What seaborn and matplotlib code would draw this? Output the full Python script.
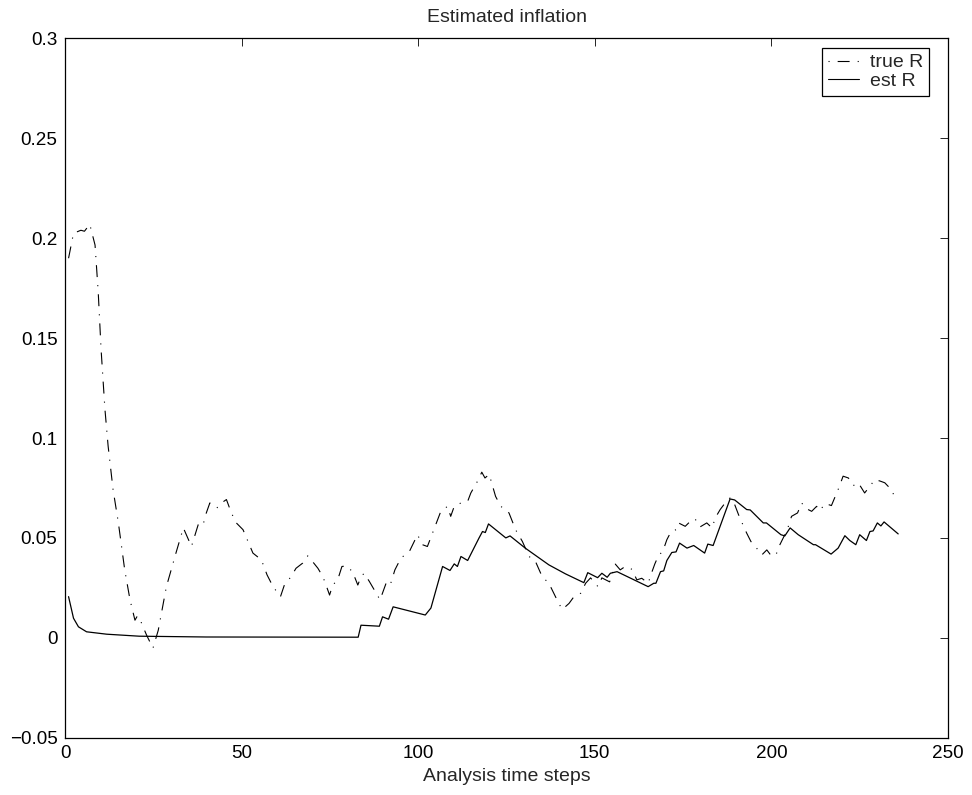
import matplotlib
matplotlib.use("Agg")
import matplotlib.pyplot as plt
import seaborn as sns
import pandas as pd

# True inflation R (dash-dot) as read at each vertex
true_steps = [1, 2.4, 4.5, 5.5, 7, 8.5, 9.4, 10.2, 11.3, 12.2, 13.6, 15.1, 16.9, 18.4, 19.8,
              20.5, 21.5, 23.1, 24.9, 26.4, 28.7, 30.6, 31.5, 33.5, 35.8, 37.7, 39, 40, 41, 43,
              44.3, 45.7, 47.1, 48.5, 50.4, 51.8, 53.2, 55.6, 57.2, 58.9, 61, 62.1, 64, 65.4,
              67.3, 68.7, 69.7, 71.6, 73, 73.9, 74.9, 75.8, 77.2, 78.4, 79.7, 81.4, 82.9, 83.8,
              84.7, 86.2, 87.6, 89.2, 90.9, 92, 93.4, 95.1, 97.5, 99.8, 101.2, 102.6, 104.4,
              106.4, 108.3, 109.2, 110.2, 112.1, 114, 114.9, 116.8, 118, 118.9, 120.1, 121.9,
              123.4, 125.7, 127.6, 129.5, 131.4, 133.2, 135.1, 137, 139.8, 140.8, 142.7, 144.1,
              146, 147.4, 148.8, 150.9, 152, 154.2, 155.8, 157.2, 158.6, 160.5, 161.9, 163.3,
              165.1, 166.2, 167, 168.1, 169.2, 170.4, 171.6, 173, 173.7, 175.6, 177.5, 178.4,
              179.8, 181.7, 183.2, 184.1, 185.5, 186.9, 188.3, 189.6, 190.7, 191.8, 193, 194.2,
              195.8, 197.3, 198.7, 200.1, 201.5, 202.4, 203.8, 204.8, 205.7, 207.4, 208.6,
              209.5, 211.4, 212.8, 213.7, 215.2, 217, 218.1, 219.1, 220.3, 221.8, 223.2, 224.6,
              226.4, 227.9, 229.3, 230.7, 232.1, 233.5, 234, 235]
true_r = [0.190, 0.2025, 0.204, 0.2035, 0.207, 0.1966, 0.173, 0.1446, 0.1144, 0.096, 0.0742,
          0.0576, 0.034, 0.019, 0.0088, 0.011, 0.008, 0.0013, -0.0052, 0.0038, 0.0256, 0.0375,
          0.043, 0.055, 0.0457, 0.0566, 0.056, 0.0625, 0.0675, 0.065, 0.0675, 0.0692, 0.0625,
          0.0575, 0.0541, 0.0482, 0.0424, 0.039, 0.0315, 0.0256, 0.0206, 0.0264, 0.0306, 0.0348,
          0.0374, 0.041, 0.039, 0.0348, 0.0306, 0.0264, 0.0214, 0.0264, 0.029, 0.0357, 0.036,
          0.0331, 0.0264, 0.0306, 0.0323, 0.0281, 0.0239, 0.019, 0.0273, 0.026, 0.034, 0.0399,
          0.0432, 0.0516, 0.0466, 0.0457, 0.054, 0.0633, 0.0658, 0.0608, 0.0658, 0.0675, 0.0683,
          0.0725, 0.0784, 0.0829, 0.080, 0.0818, 0.0708, 0.0658, 0.0625, 0.054, 0.0482, 0.0407,
          0.0382, 0.0306, 0.0273, 0.0172, 0.0142, 0.0172, 0.0206, 0.0223, 0.0273, 0.030, 0.0256,
          0.030, 0.028, 0.0369, 0.034, 0.0357, 0.0343, 0.029, 0.0298, 0.0273, 0.0331, 0.037,
          0.0415, 0.043, 0.0491, 0.0532, 0.0541, 0.0575, 0.0558, 0.0591, 0.0595, 0.0555, 0.0575,
          0.055, 0.060, 0.0642, 0.0675, 0.070, 0.0667, 0.0616, 0.0571, 0.0524, 0.0482, 0.0449,
          0.0415, 0.044, 0.0407, 0.0424, 0.0466, 0.0516, 0.0558, 0.0608, 0.0625, 0.0675, 0.065,
          0.0633, 0.0658, 0.0636, 0.0672, 0.0662, 0.0708, 0.0751, 0.0809, 0.080, 0.0762, 0.0776,
          0.0725, 0.0759, 0.0792, 0.0785, 0.0776, 0.075, 0.0742, 0.070]

# Estimated inflation R (solid)
est_steps = [1, 2.4, 3.8, 6.1, 11.8, 21, 40, 83, 83.8, 89, 89.9, 91.6, 92.9, 102, 103.6,
             106.9, 109, 110.2, 111.1, 112.1, 114, 117.2, 118.2, 119, 119.9, 124.8, 126, 130.3,
             137, 141.7, 146.9, 148, 150.8, 152, 153.5, 154.4, 156.3, 165.1, 166.7, 167.3, 168.6,
             169.5, 170.4, 171.8, 173, 174, 176.1, 178, 181.1, 182, 183.5, 188.3, 189.6, 193,
             194, 197.7, 198.6, 202.7, 203.8, 205.3, 207.6, 211.9, 212.5, 216.9, 218.9, 220.8,
             222.2, 223.9, 225, 226.9, 227.9, 228.8, 230, 231, 231.9, 235.9]
est_r = [0.0206, 0.0098, 0.0055, 0.003, 0.0018, 0.0008, 0.0004, 0.0003, 0.0063, 0.0058, 0.0105,
         0.0093, 0.0155, 0.0114, 0.0149, 0.0357, 0.0337, 0.037, 0.0357, 0.0407, 0.0387, 0.0499,
         0.0532, 0.0527, 0.057, 0.050, 0.051, 0.0449, 0.0365, 0.032, 0.0276, 0.0326, 0.0301,
         0.0323, 0.0303, 0.0323, 0.0331, 0.0256, 0.0273, 0.0273, 0.0331, 0.0335, 0.0387, 0.0427,
         0.043, 0.0474, 0.0449, 0.0462, 0.0424, 0.0469, 0.0462, 0.0695, 0.069, 0.0642, 0.064,
         0.0575, 0.0575, 0.0516, 0.051, 0.055, 0.0516, 0.0466, 0.0466, 0.0419, 0.0449, 0.0511,
         0.0487, 0.0466, 0.0516, 0.0487, 0.0532, 0.0535, 0.0575, 0.056, 0.058, 0.052]

x_ticks = [0, 50, 100, 150, 200, 250]
y_ticks = [-0.05, 0, 0.05, 0.1, 0.15, 0.2, 0.25, 0.3]
y_tick_labels = ["\u22120.05", "0", "0.05", "0.1", "0.15", "0.2", "0.25", "0.3"]

sns.set_style("white")
plt.rcParams["font.family"] = ["Liberation Sans", "DejaVu Sans"]
plt.rcParams["axes.unicode_minus"] = True
plt.rcParams["lines.scale_dashes"] = False

fig = plt.figure(figsize=(9.72, 7.95), dpi=100)
ax = fig.add_axes([0.0669, 0.0721, 0.9084, 0.8795])

true_df = pd.DataFrame({"step": true_steps, "R": true_r})
est_df = pd.DataFrame({"step": est_steps, "R": est_r})

sns.lineplot(data=true_df, x="step", y="R", ax=ax, estimator=None, sort=False,
             color="black", linewidth=0.8, label="true R")
sns.lineplot(data=est_df, x="step", y="R", ax=ax, estimator=None, sort=False,
             color="black", linewidth=0.9, label="est R")
# dash-dot pattern in points: dash, gap, dot, gap
ax.lines[0].set_dashes((8.6, 5.8, 0.8, 5.8))

ax.set_xlim(0, 250)
ax.set_ylim(-0.05, 0.3)
ax.set_xticks(x_ticks)
ax.set_xticklabels([str(t) for t in x_ticks])
ax.set_yticks(y_ticks)
ax.set_yticklabels(y_tick_labels)
ax.tick_params(direction="in", length=6, width=0.6, top=True, right=True,
               labelsize=13.6, colors="black", pad=5.5)
for side in ax.spines.values():
    side.set_visible(True)
    side.set_color("black")
    side.set_linewidth(0.9)

ax.set_title("Estimated inflation", fontsize=14, pad=12)
ax.set_xlabel("Analysis time steps", fontsize=14, labelpad=4)
ax.set_ylabel("")

leg = ax.legend(loc="upper right", bbox_to_anchor=(0.9785, 0.9864), fontsize=14,
                frameon=True, fancybox=False, edgecolor="black", framealpha=1,
                handlelength=1.6, handletextpad=0.57, borderpad=0.3, labelspacing=0.05,
                borderaxespad=0)
leg.get_frame().set_linewidth(0.9)
for line in leg.get_lines():
    line.set_linewidth(0.8)
# legend sample reads dot, dash, dot
leg.get_lines()[0].set_linestyle((0, (0.8, 5.8, 8.6, 5.8)))

fig.savefig("out.png", dpi=100)
